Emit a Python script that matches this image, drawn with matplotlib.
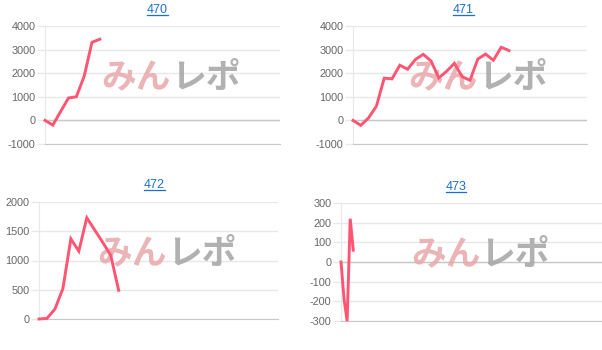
import matplotlib
matplotlib.use("Agg")
import matplotlib.pyplot as plt
from matplotlib.lines import Line2D

plt.rcParams["axes.unicode_minus"] = False

# data
titles = ["470", "471", "472", "473"]
s470 = [0, -200, 380, 950, 1000, 1870, 3310, 3440]
s471 = [0, -210, 110, 600, 1790, 1760, 2340, 2170, 2580, 2800, 2520,
        1800, 2080, 2420, 1850, 1700, 2600, 2810, 2550, 3100, 2960]
s472 = [0, 10, 170, 520, 1370, 1160, 1730, 1520, 1310, 1090, 490]
s473 = [0, -190, -300, 220, 60]
series = [s470, s471, s472, s473]
xmax = [30, 30, 30, 85]
yticks = [
    [-1000, 0, 1000, 2000, 3000, 4000],
    [-1000, 0, 1000, 2000, 3000, 4000],
    [0, 500, 1000, 1500, 2000],
    [-300, -200, -100, 0, 100, 200, 300],
]

W, H = 602, 350
fig = plt.figure(figsize=(W / 100, H / 100), dpi=100)
fig.patch.set_facecolor("white")

# panel boxes in pixels: left, right, top, bottom
boxes = [(45, 280, 26, 144), (353, 587, 26, 144),
         (39, 278, 202, 319), (341, 602, 203, 321)]
title_pos = [(157, 10), (463, 10), (154, 185), (456, 187)]

line_color = "#ff5573"
grid_color = "#e8e8e8"

for i in range(4):
    l, r, t, b = boxes[i]
    ax = fig.add_axes([l / W, 1 - b / H, (r - l) / W, (b - t) / H])
    ys = series[i]
    ax.plot(range(len(ys)), ys, color=line_color, lw=2.1,
            solid_joinstyle="miter", zorder=3, clip_on=False)
    ax.set_xlim(0, xmax[i])
    ax.set_ylim(yticks[i][0], yticks[i][-1])
    ax.set_yticks(yticks[i])
    ax.set_xticks([])
    ax.yaxis.grid(True, color=grid_color, lw=1)
    ax.set_axisbelow(True)
    if yticks[i][0] != 0:
        ax.axhline(0, color="#c8c8c8", lw=1, zorder=1)
    for s in ["top", "right"]:
        ax.spines[s].set_visible(False)
    ax.spines["left"].set_color(grid_color)
    ax.spines["bottom"].set_color("#c8c8c8")
    ax.tick_params(axis="y", length=6, width=1, color=grid_color, pad=1,
                   labelsize=7.8, labelcolor="#666666")
    for lab in ax.get_yticklabels():
        lab.set_family("Liberation Sans")

    # watermark
    wm_font = ["Noto Sans CJK JP", "DejaVu Sans"]
    ax.text(0.535, 0.56, "みん", transform=ax.transAxes, ha="right",
            va="center", fontsize=25, fontweight="bold", color="#e8a8ab",
            alpha=0.85, family=wm_font, zorder=2)
    ax.text(0.535, 0.56, "レポ", transform=ax.transAxes, ha="left",
            va="center", fontsize=25, fontweight="bold", color="#a4a4a4",
            alpha=0.85, family=wm_font, zorder=2)

    tx, ty = title_pos[i]
    fig.text(tx / W, 1 - ty / H, titles[i], ha="center", va="center",
             fontsize=9, color="#1a6fd1", family="Liberation Sans")

# underline the titles like links
fig.canvas.draw()
renderer = fig.canvas.get_renderer()
for txt in fig.texts:
    bb = txt.get_window_extent(renderer)
    y = (bb.y0 + 1) / H
    fig.add_artist(Line2D([bb.x0 / W, bb.x1 / W], [y, y],
                          transform=fig.transFigure, color="#1a6fd1", lw=0.9))

fig.savefig("out.png", dpi=100, facecolor="white")
